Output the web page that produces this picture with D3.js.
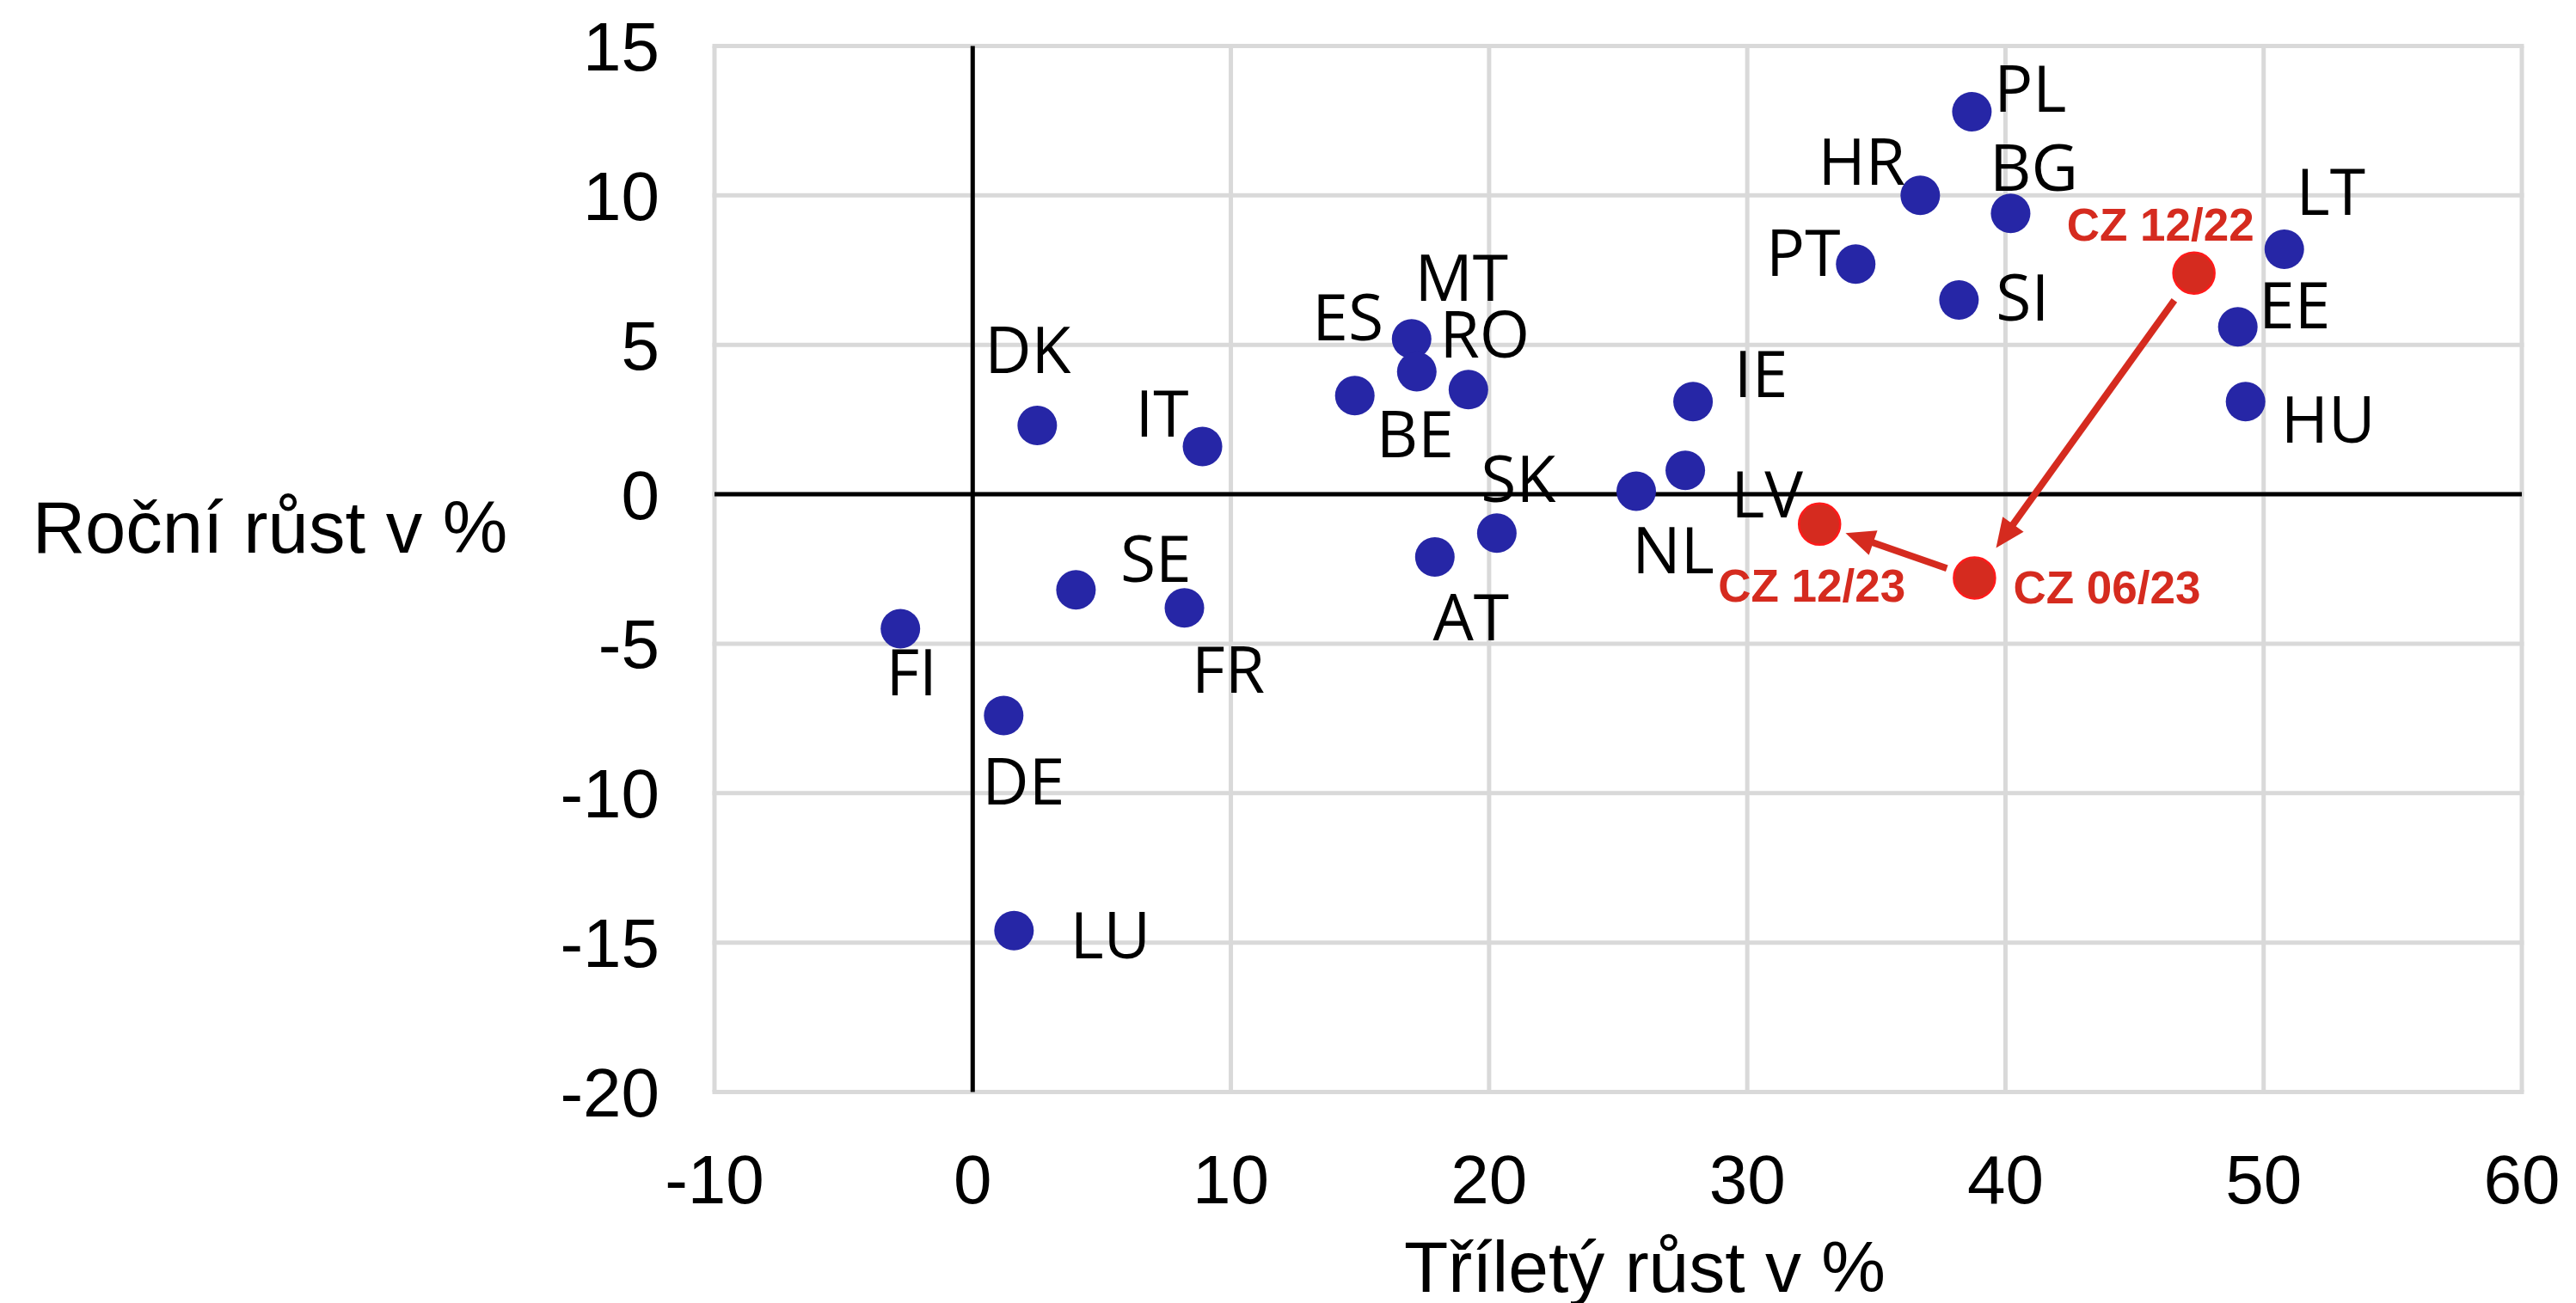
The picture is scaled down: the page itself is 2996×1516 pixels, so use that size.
<!DOCTYPE html>
<html>
<head>
<meta charset="utf-8">
<script src="https://cdn.jsdelivr.net/npm/d3@7"></script>
<style>
  html, body { margin: 0; padding: 0; background: #ffffff; }
  svg { display: block; }
</style>
</head>
<body>
<svg id="chart" width="2996" height="1516"></svg>
<script>
// ---- Data: three-year growth (x) vs. annual growth (y), in % ----
const countries = ["PL","HR","BG","PT","SI","LT","EE","HU","IE","LV","NL","MT","ES","BE","RO","SK","AT","DK","IT","SE","FR","FI","DE","LU"];
const threeYearGrowth = [38.7, 36.7, 40.2, 34.2, 38.2, 50.8, 49.0, 49.3, 27.9, 27.6, 25.7, 17.0, 14.8, 17.2, 19.2, 20.3, 17.9, 2.5, 8.9, 4.0, 8.2, -2.8, 1.2, 1.6];
const annualGrowth    = [12.8, 10.0, 9.4, 7.7, 6.5, 8.2, 5.6, 3.1, 3.1, 0.8, 0.1, 5.2, 3.3, 4.1, 3.5, -1.3, -2.1, 2.3, 1.6, -3.2, -3.8, -4.5, -7.4, -14.6];

// Czech Republic path over time
const czPeriods      = ["CZ 12/22", "CZ 06/23", "CZ 12/23"];
const czThreeYear    = [47.3, 38.8, 32.8];
const czAnnual       = [7.4, -2.8, -1.0];

// Axis ticks
const xTicks = [-10, 0, 10, 20, 30, 40, 50, 60];
const yTicks = [15, 10, 5, 0, -5, -10, -15, -20];

const xTitle = "Tříletý růst v %";
const yTitle = "Roční růst v %";

// ---- Layout ----
const plot = { left: 831, right: 2933, top: 53.5, bottom: 1270.5 };

// label centre offsets from each marker (px)
const labelOffset = {
  PL: [68, -27], HR: [-68, -39], BG: [27, -53], PT: [-61, -13], SI: [74, -3],
  LT: [54, -67], EE: [66, -25], HU: [96, 21], IE: [79, -32], LV: [95, 28],
  NL: [43, 68], MT: [58, -71], ES: [-8, -91], BE: [-2, 72], RO: [19, -64],
  SK: [25, -63], AT: [42, 70], DK: [-11, -88], IT: [-47, -38], SE: [93, -36],
  FR: [51, 72], FI: [13, 50], DE: [23, 77], LU: [112, 5]
};
const czLabelOffset = [[-39, -57], [154, 11], [-9, 71]];
// gap between arrow ends and the markers they join: [start, end]
const arrowGap = [[39, 43], [34, 32]];

const blue = "#2626a6";
const red = "#d52b1f";
const grid = "#d9d9d9";

const svg = d3.select("#chart");

const x = d3.scaleLinear().domain([-10, 60]).range([plot.left, plot.right]);
const y = d3.scaleLinear().domain([-20, 15]).range([plot.bottom, plot.top]);

// ---- Gridlines ----
const g = svg.append("g");
g.selectAll("line.vgrid").data(xTicks).join("line")
  .attr("x1", d => x(d)).attr("x2", d => x(d))
  .attr("y1", plot.top).attr("y2", plot.bottom)
  .attr("stroke", grid).attr("stroke-width", 5);
g.selectAll("line.hgrid").data(yTicks).join("line")
  .attr("x1", plot.left - 2.5).attr("x2", plot.right + 2.5)
  .attr("y1", d => y(d)).attr("y2", d => y(d))
  .attr("stroke", grid).attr("stroke-width", 5);

// ---- Zero axes ----
svg.append("line")
  .attr("x1", x(0)).attr("x2", x(0)).attr("y1", plot.top).attr("y2", plot.bottom)
  .attr("stroke", "#000").attr("stroke-width", 5);
svg.append("line")
  .attr("x1", plot.left).attr("x2", plot.right).attr("y1", y(0)).attr("y2", y(0))
  .attr("stroke", "#000").attr("stroke-width", 5);

// ---- Tick labels ----
const tickFont = "'Liberation Sans', Arial, sans-serif";
svg.append("g").selectAll("text").data(xTicks).join("text")
  .attr("x", d => x(d)).attr("y", 1400)
  .attr("text-anchor", "middle")
  .attr("font-family", tickFont).attr("font-size", 80).attr("fill", "#000")
  .text(d => d);
svg.append("g").selectAll("text").data(yTicks).join("text")
  .attr("x", 767).attr("y", d => y(d) + 28.5)
  .attr("text-anchor", "end")
  .attr("font-family", tickFont).attr("font-size", 80).attr("fill", "#000")
  .text(d => d);

// ---- Axis titles ----
svg.append("text")
  .attr("x", 1913).attr("y", 1503).attr("text-anchor", "middle")
  .attr("font-family", tickFont).attr("font-size", 84).attr("fill", "#000")
  .text(xTitle);
svg.append("text")
  .attr("x", 314).attr("y", 643).attr("text-anchor", "middle")
  .attr("font-family", tickFont).attr("font-size", 85).attr("fill", "#000")
  .text(yTitle);

// ---- Country markers ----
const pts = countries.map((c, i) => ({ c, xv: threeYearGrowth[i], yv: annualGrowth[i] }));
svg.append("g").selectAll("circle").data(pts).join("circle")
  .attr("cx", d => x(d.xv)).attr("cy", d => y(d.yv)).attr("r", 23)
  .attr("fill", blue);

// ---- Country labels ----
const labelFont = "'Open Sans', 'Noto Sans', sans-serif";
svg.append("g").selectAll("text").data(pts).join("text")
  .attr("x", d => x(d.xv) + labelOffset[d.c][0])
  .attr("y", d => y(d.yv) + labelOffset[d.c][1] + 27)
  .attr("text-anchor", "middle")
  .attr("font-family", labelFont).attr("font-size", 75).attr("fill", "#000")
  .text(d => d.c);

// ---- CZ path: arrows between consecutive periods ----
const cz = czPeriods.map((p, i) => ({ p, xv: czThreeYear[i], yv: czAnnual[i] }));
const arrows = svg.append("g");
for (let i = 0; i < cz.length - 1; i++) {
  const x0 = x(cz[i].xv), y0 = y(cz[i].yv);
  const x1 = x(cz[i + 1].xv), y1 = y(cz[i + 1].yv);
  const dx = x1 - x0, dy = y1 - y0, len = Math.hypot(dx, dy);
  const ux = dx / len, uy = dy / len;
  const sx = x0 + ux * arrowGap[i][0], sy = y0 + uy * arrowGap[i][0];
  const tx = x1 - ux * arrowGap[i][1], ty = y1 - uy * arrowGap[i][1];
  const headLen = 34, headHalf = 15;
  const bx = tx - ux * headLen, by = ty - uy * headLen;
  arrows.append("line")
    .attr("x1", sx).attr("y1", sy).attr("x2", bx + ux * 2).attr("y2", by + uy * 2)
    .attr("stroke", red).attr("stroke-width", 8);
  arrows.append("path")
    .attr("d", `M${tx},${ty} L${bx - uy * headHalf},${by + ux * headHalf} L${bx + uy * headHalf},${by - ux * headHalf} Z`)
    .attr("fill", red);
}

svg.append("g").selectAll("circle").data(cz).join("circle")
  .attr("cx", d => x(d.xv)).attr("cy", d => y(d.yv)).attr("r", 24)
  .attr("fill", red).attr("stroke", "#ff1a1a").attr("stroke-width", 2.5);

svg.append("g").selectAll("text").data(cz).join("text")
  .attr("x", (d, i) => x(d.xv) + czLabelOffset[i][0])
  .attr("y", (d, i) => y(d.yv) + czLabelOffset[i][1] + 19)
  .attr("text-anchor", "middle")
  .attr("font-family", tickFont).attr("font-weight", "bold")
  .attr("font-size", 53).attr("fill", red)
  .text(d => d.p);
</script>
</body>
</html>
